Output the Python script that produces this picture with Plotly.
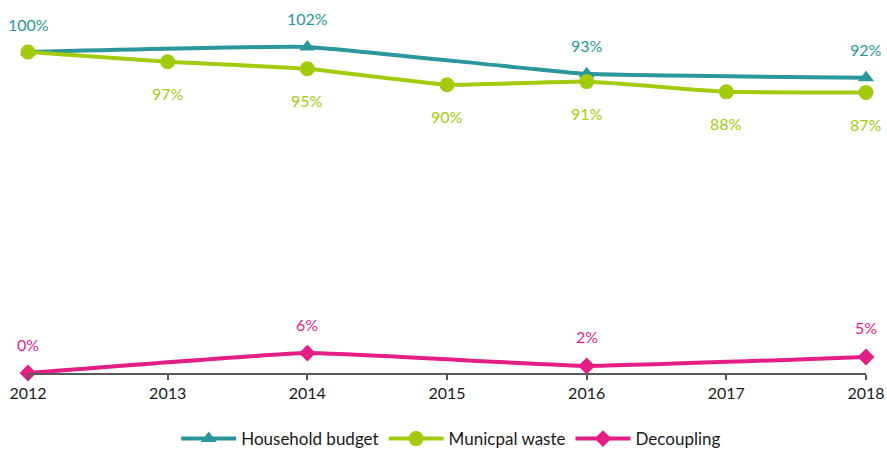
import plotly.graph_objects as go

years = [2012, 2013, 2014, 2015, 2016, 2017, 2018]
household = [100.0, None, 101.6, None, 93.2, None, 92.0]
municipal = [100.0, 97.0, 94.8, 89.8, 90.8, 87.6, 87.4]
decoupling = [0.0, None, 6.2, None, 2.2, None, 5.0]

names = ["Household budget", "Municpal waste", "Decoupling"]
colors = ["#2B969C", "#A3CB0E", "#E31F87"]
symbols = ["triangle-up", "circle", "diamond"]
msizes = [14, 15, 13]
font = "Lato, 'Open Sans', sans-serif"

fig = go.Figure()
series = [household, municipal, decoupling]
for vals, nm, c, s, ms in zip(series, names, colors, symbols, msizes):
    xs = [x for x, v in zip(years, vals) if v is not None]
    ys = [v for v in vals if v is not None]
    fig.add_trace(go.Scatter(
        x=xs, y=ys, name=nm, mode="lines+markers",
        line=dict(color=c, width=4, shape="spline", smoothing=0.3),
        marker=dict(symbol=s, size=ms, color=c),
        cliponaxis=False,
    ))

annotations = []
label_cfg = [(household, colors[0], 28, True), (municipal, colors[1], -32, False), (decoupling, colors[2], 29, True)]
for vals, c, shift, first in label_cfg:
    for i, (x, v) in enumerate(zip(years, vals)):
        if v is None or (i == 0 and not first):
            continue
        annotations.append(dict(x=x, y=v, text=f"{round(v)}%", showarrow=False,
                                yshift=shift, font=dict(family=font, size=16, color=c)))

fig.update_layout(
    width=887, height=450,
    margin=dict(l=28, r=21, t=36, b=77, autoexpand=False),
    paper_bgcolor="white", plot_bgcolor="white",
    font=dict(family=font, size=15, color="#1a1a1a"),
    annotations=annotations,
    showlegend=True,
    legend=dict(orientation="h", x=0.505, xanchor="center", y=-0.196, yanchor="middle",
                font=dict(family=font, size=17, color="#1a1a1a"),
                itemwidth=55, traceorder="normal"),
    xaxis=dict(range=[2012, 2018], tickmode="array", tickvals=years, automargin=False,
               ticktext=[str(y) for y in years], showgrid=False, zeroline=False,
               showline=True, linecolor="#595959", linewidth=2,
               ticks="outside", ticklen=5, tickcolor="#595959", tickwidth=2,
               tickfont=dict(family=font, size=16, color="#1a1a1a")),
    yaxis=dict(range=[0, 105], visible=False, showgrid=False, zeroline=False, automargin=False),
)

fig.write_html(
    "out.html",
    config={"displayModeBar": False},
    post_script="document.body.style.margin='0';document.documentElement.style.overflow='hidden';document.body.style.overflow='hidden';",
)
